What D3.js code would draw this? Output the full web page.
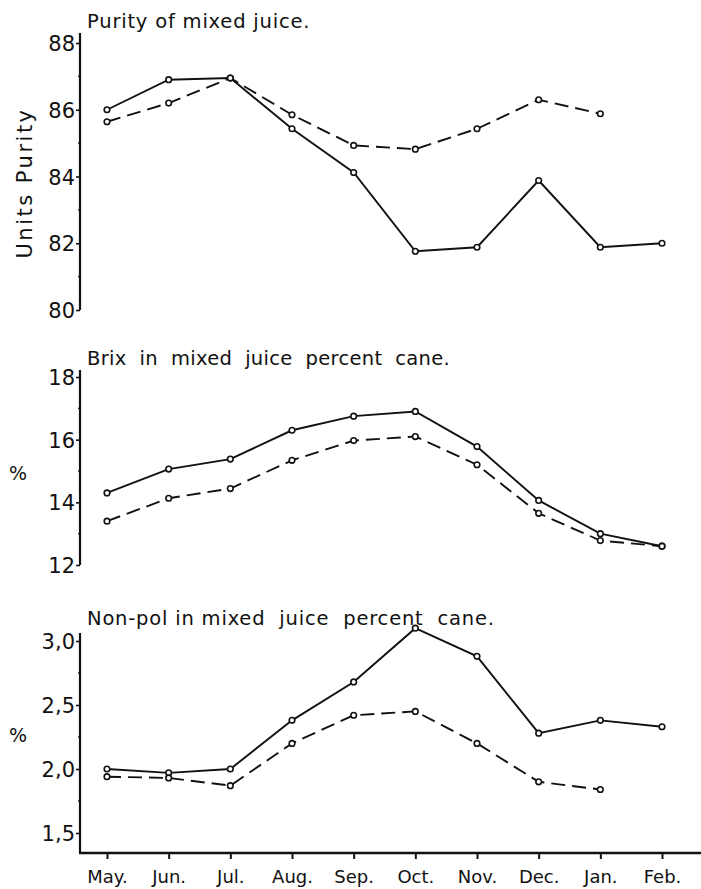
<!DOCTYPE html>
<html>
<head>
<meta charset="utf-8">
<script src="https://cdn.jsdelivr.net/npm/d3@7"></script>
<style>
  body { margin: 0; background: #fff; }
  svg text { font-family: "DejaVu Sans", sans-serif; fill: #111; }
  .line { fill: none; stroke: #111; stroke-width: 1.9; }
  .dot { fill: #fff; stroke: #111; stroke-width: 1.6; }
  .axis path, .axis line { stroke: #111; }
</style>
</head>
<body>
<svg id="chart" width="701" height="889"></svg>
<script>
// months along the bottom
const months = ["May.", "Jun.", "Jul.", "Aug.", "Sep.", "Oct.", "Nov.", "Dec.", "Jan.", "Feb."];

// purity of mixed juice
const puritySolid  = [86.0, 86.9, 86.95, 85.43, 84.12, 81.76, 81.88, 83.88, 81.88, 82.0];
const purityDashed = [85.64, 86.2, 86.95, 85.85, 84.93, 84.82, 85.43, 86.3, 85.88];

// brix in mixed juice percent cane
const brixSolid  = [14.3, 15.06, 15.38, 16.3, 16.75, 16.9, 15.78, 14.06, 13.0, 12.6];
const brixDashed = [13.4, 14.13, 14.44, 15.34, 15.97, 16.1, 15.2, 13.65, 12.78, 12.6];

// non-pol in mixed juice percent cane
const nonpolSolid  = [2.0, 1.97, 2.0, 2.38, 2.68, 3.1, 2.88, 2.28, 2.38, 2.33];
const nonpolDashed = [1.94, 1.93, 1.87, 2.2, 2.42, 2.45, 2.2, 1.9, 1.84];

const panels = [
    { title: "Purity of mixed juice.", ylabel: "Units Purity", rotate: true,
      domain: [80, 88], range: [310, 43], top: 33, bottom: 310,
      ticks: [80, 82, 84, 86, 88], minor: [81, 83, 85, 87], spacing: 0.8,
      solid: puritySolid, dashed: purityDashed, titleY: 28, labelY: 183 },
    { title: "Brix  in  mixed  juice  percent  cane.", ylabel: "%", rotate: false,
      domain: [12, 18], range: [565, 377], top: 370, bottom: 565,
      ticks: [12, 14, 16, 18], minor: [13, 15, 17], spacing: 0.3,
      solid: brixSolid, dashed: brixDashed, titleY: 365, labelY: 480 },
    { title: "Non-pol in mixed  juice  percent  cane.", ylabel: "%", rotate: false,
      domain: [1.5, 3.0], range: [833, 641], top: 633, bottom: 853,
      ticks: [1.5, 2.0, 2.5, 3.0], minor: [1.75, 2.25, 2.75], spacing: 0.8,
      solid: nonpolSolid, dashed: nonpolDashed, titleY: 625, labelY: 742 }
];

const svg = d3.select("#chart");
const axisX = 80;

const x = d3.scalePoint()
    .domain(months)
    .range([107, 662]);

panels.forEach(function(p, i) {
    const y = d3.scaleLinear().domain(p.domain).range(p.range);
    const g = svg.append("g");

    // vertical axis line
    g.append("line")
        .attr("x1", axisX).attr("x2", axisX)
        .attr("y1", p.top).attr("y2", p.bottom)
        .attr("stroke", "#111").attr("stroke-width", 2.2);

    const yAxis = d3.axisLeft(y)
        .tickValues(p.ticks)
        .tickSize(4)
        .tickPadding(1)
        .tickFormat(d => i == 2 ? d3.format(".1f")(d).replace(".", ",") : d);

    g.append("g")
        .attr("class", "axis")
        .attr("transform", "translate(" + axisX + ",0)")
        .call(yAxis)
        .call(a => a.select(".domain").remove())
        .call(a => a.selectAll("line").attr("stroke-width", 1.6))
        .call(a => a.selectAll("text")
            .style("font-size", "21px")
            .attr("dy", "0.36em"));

    // minor ticks
    g.selectAll("line.minor")
        .data(p.minor)
        .enter().append("line")
            .attr("class", "minor")
            .attr("x1", axisX - 2).attr("x2", axisX + 1)
            .attr("y1", d => y(d)).attr("y2", d => y(d))
            .attr("stroke", "#111").attr("stroke-width", 1.2);

    g.append("text")
        .attr("x", 87)
        .attr("y", p.titleY)
        .style("font-size", "19.5px")
        .style("letter-spacing", p.spacing + "px")
        .style("white-space", "pre")
        .attr("xml:space", "preserve")
        .text(p.title);

    if (p.rotate) {
        g.append("text")
            .attr("transform", "translate(32," + p.labelY + ") rotate(-90)")
            .attr("text-anchor", "middle")
            .style("font-size", "21px")
            .style("letter-spacing", "2.5px")
            .text(p.ylabel);
    } else {
        g.append("text")
            .attr("x", 18)
            .attr("y", p.labelY)
            .attr("text-anchor", "middle")
            .style("font-size", "19px")
            .text(p.ylabel);
    }

    const line = d3.line()
        .x((d, j) => x(months[j]))
        .y(d => y(d));

    g.append("path")
        .datum(p.solid)
        .attr("class", "line")
        .attr("d", line);

    g.append("path")
        .datum(p.dashed)
        .attr("class", "line")
        .attr("stroke-dasharray", "14,7")
        .attr("d", line);

    [p.solid, p.dashed].forEach(function(series) {
        g.selectAll(null)
            .data(series)
            .enter().append("circle")
                .attr("class", "dot")
                .attr("cx", (d, j) => x(months[j]))
                .attr("cy", d => y(d))
                .attr("r", 2.8);
    });
});

// bottom month axis
const xAxis = d3.axisBottom(x)
    .tickSize(6)
    .tickPadding(11);

svg.append("line")
    .attr("x1", axisX - 1).attr("x2", 701)
    .attr("y1", 853).attr("y2", 853)
    .attr("stroke", "#111").attr("stroke-width", 2.4);

svg.append("g")
    .attr("class", "axis")
    .attr("transform", "translate(0,853)")
    .call(xAxis)
    .call(a => a.select(".domain").remove())
    .call(a => a.selectAll("line").attr("stroke-width", 2))
    .call(a => a.selectAll("text").style("font-size", "18px"));
</script>
</body>
</html>
